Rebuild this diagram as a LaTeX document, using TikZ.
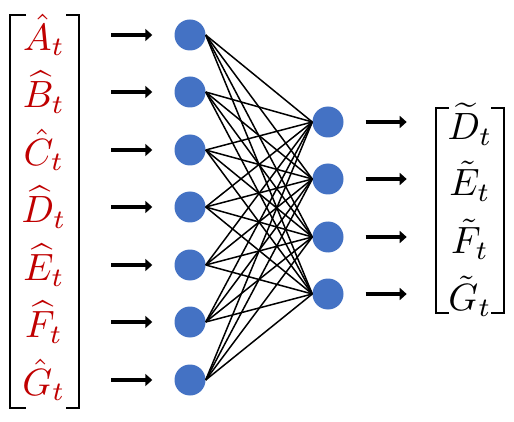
\documentclass[tikz,border=0pt]{standalone}
\usetikzlibrary{arrows.meta}
\definecolor{nnblue}{HTML}{4472C4}
\definecolor{nnred}{HTML}{C00000}
\newcommand{\biglab}[1]{\scalebox{3.8}{$#1$}}
\begin{document}
\begin{tikzpicture}[x=1pt,y=-1pt,
  neuron/.style={circle,fill=nnblue,minimum size=31pt,inner sep=0pt},
  lab/.style={inner sep=0pt},
  inlab/.style={lab,text=nnred},
  bigarrow/.style={line width=4.4pt,-{Triangle[length=7pt,width=12pt]}},
  link/.style={line width=1.5pt},
  brack/.style={line width=2.6pt}]
\useasboundingbox (0,0) rectangle (514,422);
\fill[white] (0,0) rectangle (514,422);
% input neurons
\foreach \k/\y in {1/35,2/92,3/150,4/207,5/265,6/322,7/380}{
  \node[neuron] (i\k) at (190,\y) {};
}
% output neurons
\foreach \k/\y in {1/122,2/179,3/237,4/294}{
  \node[neuron] (o\k) at (328,\y) {};
}
% links
\foreach \a in {1,...,7}{
  \foreach \b in {1,...,4}{
    \draw[link] (i\a.east) -- (o\b.west);
  }
}
% input labels
\node[inlab] (L1) at (44,35) {\biglab{\hat{A}_t}};
\node[inlab] (L2) at (44,92) {\biglab{\widehat{B}_t}};
\node[inlab] (L3) at (44,150) {\biglab{\hat{C}_t}};
\node[inlab] (L4) at (44,207) {\biglab{\widehat{D}_t}};
\node[inlab] (L5) at (44,265) {\biglab{\widehat{E}_t}};
\node[inlab] (L6) at (44,322) {\biglab{\widehat{F}_t}};
\node[inlab] (L7) at (44,380) {\biglab{\hat{G}_t}};
% output labels
\node[lab] (R1) at (470,124) {\biglab{\widetilde{D}_t}};
\node[lab] (R2) at (470,181) {\biglab{\tilde{E}_t}};
\node[lab] (R3) at (470,239) {\biglab{\tilde{F}_t}};
\node[lab] (R4) at (470,296) {\biglab{\tilde{G}_t}};
% brackets
\draw[brack] (26,15) -- (10,15) -- (10,408) -- (26,408);
\draw[brack] (66,15) -- (79,15) -- (79,408) -- (66,408);
\draw[brack] (449,108) -- (436,108) -- (436,313) -- (449,313);
\draw[brack] (491,108) -- (504,108) -- (504,313) -- (491,313);
% arrows
\foreach \k in {1,...,7}{
  \draw[bigarrow] ([xshift=-63pt]i\k.west) -- ([xshift=-22pt]i\k.west);
}
\foreach \k in {1,...,4}{
  \draw[bigarrow] ([xshift=22pt]o\k.east) -- ([xshift=63pt]o\k.east);
}
\end{tikzpicture}
\end{document}
